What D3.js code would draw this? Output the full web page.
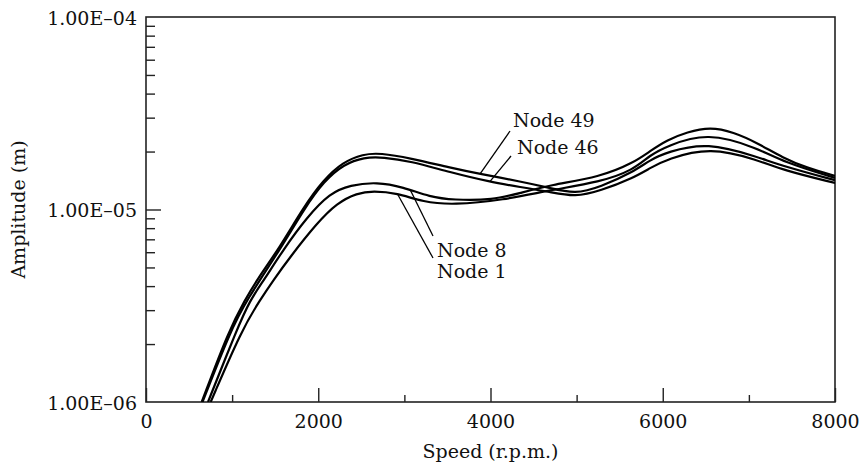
<!DOCTYPE html>
<html>
<head>
<meta charset="utf-8">
<script src="https://cdn.jsdelivr.net/npm/d3@7"></script>
<style>
  body { margin: 0; background: #fff; }
  svg { display: block; }
  text { font-family: "DejaVu Serif", serif; fill: #111; }
</style>
</head>
<body>
<div id="chart"></div>
<script>
// Speed (r.p.m.) and amplitude (m)
const node49Rpm = [647, 964, 1150, 1286, 1556, 1823, 2056, 2288, 2520, 2718, 3066, 3531, 3879, 4344, 4692, 4983, 5273, 5656, 5854, 6051, 6516, 7102, 7398, 8000];
const node49Amp = [1.00e-6, 2.37e-6, 3.39e-6, 4.30e-6, 6.39e-6, 1.018e-5, 1.42e-5, 1.766e-5, 1.94e-5, 1.966e-5, 1.85e-5, 1.65e-5, 1.53e-5, 1.40e-5, 1.293e-5, 1.204e-5, 1.309e-5, 1.566e-5, 1.81e-5, 1.99e-5, 2.24e-5, 1.874e-5, 1.68e-5, 1.42e-5];

const node46Rpm = [656, 976, 1161, 1568, 1835, 2067, 2300, 2532, 2753, 3066, 3531, 3995, 4344, 4692, 4983, 5273, 5656, 5854, 6051, 6551, 7102, 7398, 8000];
const node46Amp = [1.00e-6, 2.31e-6, 3.35e-6, 6.31e-6, 1.006e-5, 1.406e-5, 1.72e-5, 1.87e-5, 1.87e-5, 1.786e-5, 1.56e-5, 1.39e-5, 1.309e-5, 1.233e-5, 1.161e-5, 1.248e-5, 1.458e-5, 1.643e-5, 1.83e-5, 2.112e-5, 1.81e-5, 1.60e-5, 1.373e-5];

const node8Rpm = [720, 1053, 1208, 1370, 1591, 1870, 2137, 2369, 2683, 2985, 3298, 3566, 4030, 4344, 4692, 5273, 5656, 5854, 6051, 6283, 6551, 6818, 7102, 7398, 7677, 8000];
const node8Amp = [1.00e-6, 2.37e-6, 3.39e-6, 4.30e-6, 6.16e-6, 9.14e-6, 1.218e-5, 1.34e-5, 1.39e-5, 1.309e-5, 1.161e-5, 1.12e-5, 1.12e-5, 1.218e-5, 1.34e-5, 1.475e-5, 1.744e-5, 2.013e-5, 2.296e-5, 2.527e-5, 2.683e-5, 2.527e-5, 2.215e-5, 1.851e-5, 1.643e-5, 1.493e-5];

const node1Rpm = [751, 1111, 1324, 1480, 1672, 1986, 2218, 2451, 2636, 2915, 3217, 3566, 4146, 4692, 5273, 5656, 5854, 6051, 6516, 7102, 7398, 8000];
const node1Amp = [1.00e-6, 2.37e-6, 3.39e-6, 4.30e-6, 5.66e-6, 8.51e-6, 1.081e-5, 1.218e-5, 1.248e-5, 1.218e-5, 1.094e-5, 1.055e-5, 1.12e-5, 1.26e-5, 1.39e-5, 1.60e-5, 1.92e-5, 2.137e-5, 2.527e-5, 2.087e-5, 1.766e-5, 1.458e-5];

const xTicks = [0, 2000, 4000, 6000, 8000];
const xMinorTicks = [1000, 3000, 5000, 7000];
const yTicks = [1e-6, 1e-5, 1e-4];
const yTickLabels = ["1.00E\u201306", "1.00E\u201305", "1.00E\u201304"];

// Labels with their leader lines: anchor on the curve, end near the text
const labels = [
    { text: "Node 49", rpm: 3879, amp: 1.53e-5, tx: 513, ty: 127, lx: 510, ly: 131 },
    { text: "Node 46", rpm: 3995, amp: 1.40e-5, tx: 517, ty: 154, lx: 511, ly: 156 },
    { text: "Node 8", rpm: 3066, amp: 1.27e-5, tx: 437, ty: 257, lx: 433, ly: 236 },
    { text: "Node 1", rpm: 2915, amp: 1.215e-5, tx: 437, ty: 278, lx: 433, ly: 258 }
];

const width = 861;
const height = 466;
const margin = { top: 17, right: 26, bottom: 64, left: 146 };

const svg = d3.select("#chart")
    .append("svg")
    .attr("width", width)
    .attr("height", height);

const x = d3.scaleLinear()
    .domain([0, 8000])
    .range([margin.left, width - margin.right]);

const y = d3.scaleLog()
    .domain([1e-6, 1e-4])
    .range([height - margin.bottom, margin.top]);

const bottom = height - margin.bottom;

svg.append("clipPath").attr("id", "plot")
    .append("rect")
    .attr("x", margin.left).attr("y", margin.top)
    .attr("width", x(8000) - margin.left)
    .attr("height", bottom - margin.top);

// Marco
svg.append("rect")
    .attr("x", margin.left).attr("y", margin.top)
    .attr("width", x(8000) - margin.left)
    .attr("height", bottom - margin.top)
    .attr("fill", "none")
    .attr("stroke", "#222")
    .attr("stroke-width", 1.6);

// Eje x
const xAxis = svg.append("g")
    .attr("transform", `translate(0,${bottom})`)
    .call(d3.axisBottom(x).tickValues(xTicks).tickSizeInner(-14).tickSizeOuter(0).tickPadding(0)
        .tickFormat(d3.format("d")));
xAxis.select(".domain").remove();
xAxis.selectAll("line").attr("stroke", "#222").attr("stroke-width", 1.4);
xAxis.selectAll("text")
    .attr("y", 26).attr("dy", 0)
    .style("font-size", "19px")
    .style("font-family", "DejaVu Serif, serif")
    .attr("fill", "#111");

const xMinor = svg.append("g")
    .attr("transform", `translate(0,${bottom})`)
    .call(d3.axisBottom(x).tickValues(xMinorTicks).tickSizeInner(-7).tickSizeOuter(0).tickFormat(""));
xMinor.select(".domain").remove();
xMinor.selectAll("line").attr("stroke", "#222").attr("stroke-width", 1.4);

// Eje y
const yMinorTicks = [];
[1e-6, 1e-5].forEach(dec => {
    for (let k = 2; k <= 9; k++) yMinorTicks.push(k * dec);
});

const yAxis = svg.append("g")
    .attr("transform", `translate(${margin.left},0)`)
    .call(d3.axisLeft(y).tickValues(yTicks).tickSizeInner(0).tickSizeOuter(0).tickPadding(9)
        .tickFormat((d, i) => yTickLabels[i]));
yAxis.select(".domain").remove();
yAxis.selectAll("text")
    .attr("dy", "0.38em")
    .style("font-size", "19px")
    .style("font-family", "DejaVu Serif, serif")
    .attr("fill", "#111");

const yMinor = svg.append("g")
    .attr("transform", `translate(${margin.left},0)`)
    .call(d3.axisLeft(y).tickValues(yMinorTicks).tickSizeInner(-9).tickSizeOuter(0).tickFormat(""));
yMinor.select(".domain").remove();
yMinor.selectAll("line").attr("stroke", "#222").attr("stroke-width", 1.4);

const yMajor = svg.append("g")
    .attr("transform", `translate(${margin.left},0)`)
    .call(d3.axisLeft(y).tickValues([1e-5]).tickSizeInner(-15).tickSizeOuter(0).tickFormat(""));
yMajor.select(".domain").remove();
yMajor.selectAll("line").attr("stroke", "#222").attr("stroke-width", 1.4);

// Curvas
const series = [
    { rpm: node49Rpm, amp: node49Amp },
    { rpm: node46Rpm, amp: node46Amp },
    { rpm: node8Rpm, amp: node8Amp },
    { rpm: node1Rpm, amp: node1Amp }
];

const line = d3.line()
    .x(d => x(d[0]))
    .y(d => y(d[1]))
    .curve(d3.curveBasis);

svg.append("g")
    .attr("clip-path", "url(#plot)")
    .selectAll("path")
    .data(series)
    .enter().append("path")
    .attr("d", s => line(s.rpm.map((r, i) => [r, s.amp[i]])))
    .attr("fill", "none")
    .attr("stroke", "#000")
    .attr("stroke-width", 2.2);

// Etiquetas
labels.forEach(l => {
    svg.append("line")
        .attr("x1", x(l.rpm)).attr("y1", y(l.amp))
        .attr("x2", l.lx).attr("y2", l.ly)
        .attr("stroke", "#000")
        .attr("stroke-width", 1.3);
    svg.append("text")
        .attr("x", l.tx).attr("y", l.ty)
        .style("font-size", "19px")
        .text(l.text);
});

// Titulos de ejes
svg.append("text")
    .attr("x", (margin.left + x(8000)) / 2)
    .attr("y", 458)
    .attr("text-anchor", "middle")
    .style("font-size", "19px")
    .text("Speed (r.p.m.)");

svg.append("text")
    .attr("transform", `translate(25,${(margin.top + bottom) / 2}) rotate(-90)`)
    .attr("text-anchor", "middle")
    .style("font-size", "19px")
    .text("Amplitude (m)");
</script>
</body>
</html>
